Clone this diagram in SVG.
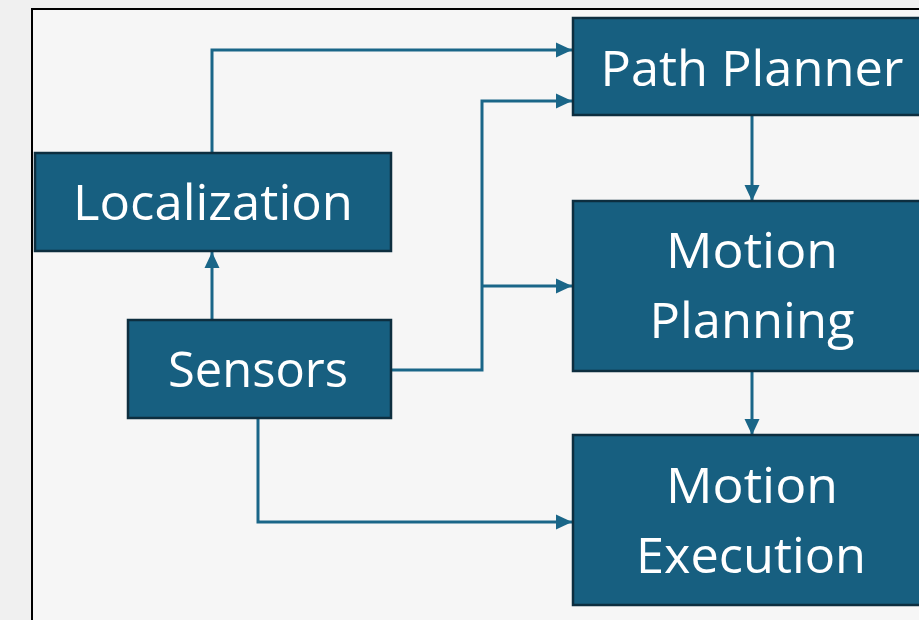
<svg xmlns="http://www.w3.org/2000/svg" width="919" height="620" viewBox="0 0 919 620">
  <defs>
    <style>
      .box { fill: #175f80; stroke: #0d2e3f; stroke-width: 2.5; }
      .label { fill: #ffffff; font-family: "Open Sans", "Noto Sans", sans-serif; font-size: 50px; text-anchor: middle; }
      .wire { fill: none; stroke: #1a6688; stroke-width: 3; }
    </style>
    <marker id="arrow" markerUnits="userSpaceOnUse" markerWidth="18" markerHeight="18" refX="16" refY="9" orient="auto">
      <path d="M0,1.5 L16,9 L0,16.5 Z" fill="#1a6688"/>
    </marker>
  </defs>

  <!-- page and frame -->
  <rect x="0" y="0" width="919" height="620" fill="#f0f0f0"/>
  <rect x="32" y="9" width="900" height="620" fill="#f6f6f6" stroke="#000000" stroke-width="2"/>

  <!-- connectors -->
  <g id="connectors">
    <path class="wire" d="M212 153 V50 H572" marker-end="url(#arrow)"/>
    <path class="wire" d="M391 370 H482 V101 H572" marker-end="url(#arrow)"/>
    <path class="wire" d="M482 286 H572" marker-end="url(#arrow)"/>
    <path class="wire" d="M212 320 V252" marker-end="url(#arrow)"/>
    <path class="wire" d="M752 115 V201" marker-end="url(#arrow)"/>
    <path class="wire" d="M752 371 V435" marker-end="url(#arrow)"/>
    <path class="wire" d="M258 418 V522 H572" marker-end="url(#arrow)"/>
  </g>

  <!-- nodes -->
  <g id="localization">
    <rect class="box" x="35" y="153" width="356" height="98"/>
    <text class="label" x="213" y="220" textLength="280" lengthAdjust="spacingAndGlyphs">Localization</text>
  </g>
  <g id="sensors">
    <rect class="box" x="128" y="320" width="263" height="98"/>
    <text class="label" x="258" y="387" textLength="180" lengthAdjust="spacingAndGlyphs">Sensors</text>
  </g>
  <g id="path-planner">
    <rect class="box" x="573" y="18" width="360" height="97"/>
    <text class="label" x="752" y="86" textLength="303" lengthAdjust="spacingAndGlyphs">Path Planner</text>
  </g>
  <g id="motion-planning">
    <rect class="box" x="573" y="201" width="360" height="170"/>
    <text class="label" x="752" y="268" textLength="172" lengthAdjust="spacingAndGlyphs">Motion</text>
    <text class="label" x="752" y="338" textLength="205" lengthAdjust="spacingAndGlyphs">Planning</text>
  </g>
  <g id="motion-execution">
    <rect class="box" x="573" y="435" width="360" height="170"/>
    <text class="label" x="752" y="503" textLength="172" lengthAdjust="spacingAndGlyphs">Motion</text>
    <text class="label" x="751" y="573" textLength="230" lengthAdjust="spacingAndGlyphs">Execution</text>
  </g>
</svg>
